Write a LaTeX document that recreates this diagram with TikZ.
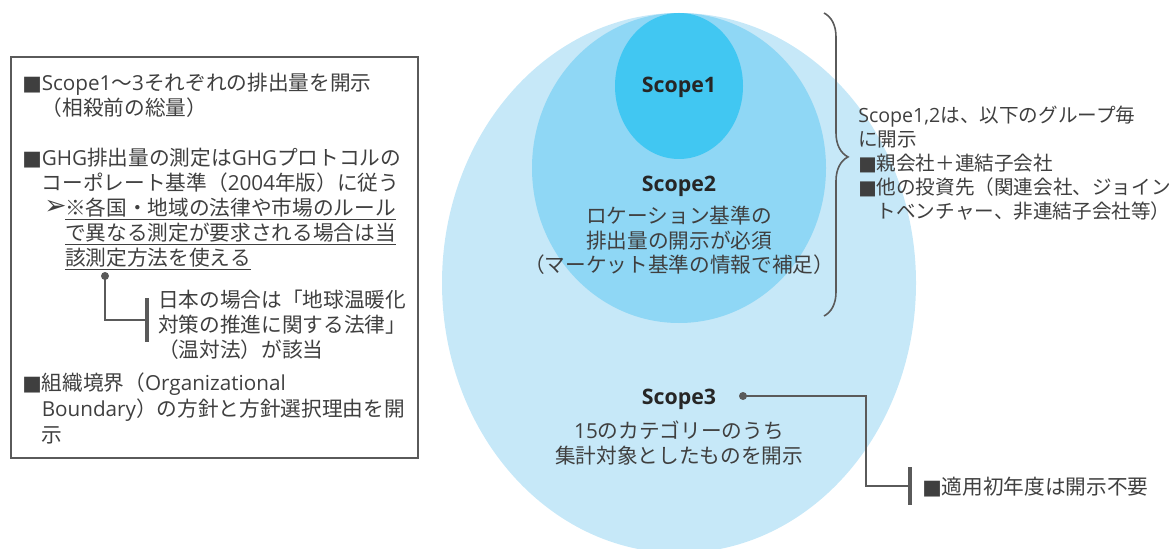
\documentclass[tikz,border=0pt]{standalone}
\usepackage{fontspec}
\setmainfont{Noto Sans CJK JP}
\newfontfamily\latinbold{Open Sans}
\newfontfamily\dejavu{DejaVu Sans}
\newcommand\en[1]{{\latinbold #1}}
\newcommand\sqm{{\dejavu ■}}
\usetikzlibrary{decorations.pathreplacing}
\definecolor{sone}{HTML}{41C7F2}
\definecolor{stwo}{HTML}{8FD7F5}
\definecolor{sthree}{HTML}{C6E8F8}
\definecolor{ink}{HTML}{3F3F3F}
\definecolor{wire}{HTML}{5A5A5A}
\begin{document}
\begin{tikzpicture}[x=0.75pt,y=-0.75pt,
  font=\fontsize{15.5}{18.75}\selectfont,
  txt/.style={inner sep=0pt, text=ink, align=left, anchor=north west},
  ctr/.style={inner sep=0pt, text=ink, align=center, anchor=north},
  lbl/.style={inner sep=0pt, text=black!85, font=\latinbold\fontsize{16}{18}\selectfont\bfseries},
  wireline/.style={draw=wire, line width=1.2pt},
  barnode/.style={fill=wire, inner sep=0pt, minimum width=3pt},
  dotnode/.style={circle, fill=wire, inner sep=0pt, minimum size=6pt}]
\useasboundingbox (0,0) rectangle (1174,549);
% circles
\fill[sthree] (679,283) ellipse [x radius=237, y radius=270];
\fill[stwo] (679,168) ellipse [x radius=147, y radius=155];
\fill[sone] (679,86) ellipse [x radius=64, y radius=73];
\node[lbl] (s1) at (679,87) {Scope1};
\node[lbl] (s2) at (679,186) {Scope2};
\node[ctr, font=\fontsize{15.5}{18.4}\selectfont] (s2t) at (679,206) {ロケーション基準の\\排出量の開示が必須\\（マーケット基準の情報で補足）};
\node[lbl] (s3) at (679,399) {Scope3};
\node[ctr] (s3t) at (679,421) {\en{15}のカテゴリーのうち\\集計対象としたものを開示};
% scope3 note
\node[dotnode] (d3) at (743,396) {};
\coordinate (k3) at (866,396);
\node[barnode, minimum height=28.5pt] (b3) at (910,486) {};
\draw[wireline] (d3.center) -- (k3) |- (b3.west);
\node[txt] (r3) at (922,477) {\sqm 適用初年度は開示不要};
% brace
\draw[draw=wire, line width=1.2pt, decorate, decoration={brace, amplitude=18pt, aspect=0.475}] (824,13) -- (824,316);
\node[txt, font=\fontsize{14.7}{18}\selectfont] (r12) at (858,106) {\en{Scope1,2}は、以下のグループ毎\\に開示\\\sqm 親会社＋連結子会社\\\sqm 他の投資先（関連会社、ジョイン\\\phantom{\sqm}トベンチャー、非連結子会社等）};
% left box
\node[draw=wire, line width=0.8pt, minimum width=305.25pt, minimum height=300.75pt, inner sep=0pt] (box) at (214.5,257.5) {};
\node[txt] (p1) at (22,73) {\sqm\en{Scope1}〜\en{3}それぞれの排出量を開示\\\phantom{\sqm}（相殺前の総量）};
\node[txt] (p2) at (22,148) {\sqm\en{GHG}排出量の測定は\en{GHG}プロトコルの\\\phantom{\sqm}コーポレート基準（\en{2004}年版）に従う};
\node[inner sep=0pt, text=ink, anchor=west, font=\dejavu\fontsize{20}{22}\selectfont] (ar) at (44,207) {➢};
\node[txt] (p3) at (65,198) {\underline{※各国・地域の法律や市場のルール}\\\underline{で異なる測定が要求される場合は当}\\\underline{該測定方法を使える}};
\node[dotnode] (d1) at (105,276) {};
\node[barnode, minimum height=33pt] (b1) at (147,320) {};
\draw[wireline] (d1.center) |- (b1.west);
\node[txt] (p4) at (158,290) {日本の場合は「地球温暖化\\対策の推進に関する法律」\\（温対法）が該当};
\node[txt, font=\fontsize{15.5}{19.2}\selectfont] (p5) at (22,373) {\sqm 組織境界（\en{Organizational}\\\phantom{\sqm}\en{Boundary}）の方針と方針選択理由を開\\\phantom{\sqm}示};
\end{tikzpicture}
\end{document}
